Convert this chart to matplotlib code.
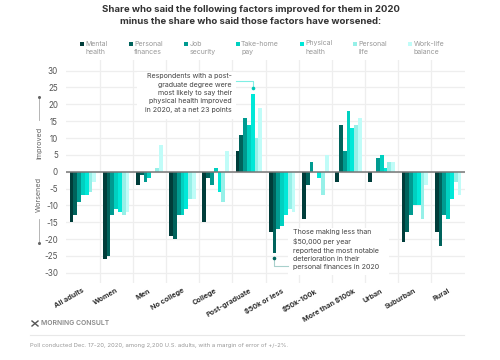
import numpy as np
import matplotlib
matplotlib.use('Agg')
import matplotlib.pyplot as plt
from matplotlib.lines import Line2D
from matplotlib.patches import Rectangle

plt.rcParams['font.family'] = ['Inter', 'DejaVu Sans']
plt.rcParams['axes.unicode_minus'] = False

groups = ['All adults', 'Women', 'Men', 'No college', 'College', 'Post-graduate',
          '$50k or less', '$50k-100k', 'More than $100k', 'Urban', 'Suburban', 'Rural']
mental = [-15, -26, -4, -19, -15, 6, -18, -14, -3, -3, -21, -18]
finances = [-13, -25, -1, -20, -2, 11, -24, -4, 14, 0, -18, -22]
job = [-9, -13, -3, -13, -4, 16, -17, 3, 6, 4, -13, -13]
pay = [-7, -11, -2, -13, 1, 14, -16, 0, 18, 5, -10, -14]
physical = [-7, -12, 0, -11, -6, 23, -13, -2, 13, 1, -10, -8]
personal = [-6, -13, 1, -8, -9, 10, -11, -7, 14, 3, -14, -3]
worklife = [-3, -12, 8, -8, 6, 19, -12, 5, 16, 3, -4, -7]

series = [mental, finances, job, pay, physical, personal, worklife]
labels = ['Mental\nhealth', 'Personal\nfinances', 'Job\nsecurity', 'Take-home\npay',
          'Physical\nhealth', 'Personal\nlife', 'Work-life\nbalance']
colors = ['#003d3a', '#00635c', '#009a90', '#00d0c0', '#00e8d8', '#96f0e8', '#c0fcf8']
yticks = np.arange(-30, 31, 5)

W, H = 500, 360


def fx(px):
    return px / W


def fy(py):
    return 1 - py / H


fig = plt.figure(figsize=(5, 3.6), dpi=100)
ax = fig.add_axes([fx(66.3), fy(283.2), (464.7 - 66.3) / W, (283.2 - 60.2) / H])

x = np.arange(len(groups))
bar_w = 0.8 / 7
for i, vals in enumerate(series):
    ax.bar(x + 0.5 + (i - 3) * bar_w, vals, bar_w, color=colors[i], zorder=3)

ax.set_xlim(0, 12)
ax.set_ylim(-33.1, 33.1)
ax.set_yticks(yticks)
ax.set_xticks(np.arange(1, 12))
ax.set_xticklabels([])
ax.tick_params(length=0, labelsize=5.8, labelcolor='#555555', pad=6)
ax.grid(color='#eeeeee', linewidth=0.9, zorder=0)
ax.set_axisbelow(True)
for s in ax.spines.values():
    s.set_visible(False)
ax.axhline(0, color='#777777', linewidth=1.1, zorder=4)

# white boxes behind the two notes
for bx, by, bw, bh in [(137, 72, 99, 47), (288, 228, 101, 47)]:
    ax.add_patch(Rectangle((fx(bx), fy(by + bh)), bw / W, bh / H, transform=fig.transFigure,
                           facecolor='white', edgecolor='none', zorder=2))

# category labels, longer ones sit a bit further right
for i, g in enumerate(groups):
    off = 16 + max(len(g) - 12, 0) * 1.5
    fig.text(fx(66.3 + 33.2 * i + off), fy(287.5), g, rotation=30, rotation_mode='anchor',
             ha='right', va='top', fontsize=5.2, fontweight='bold', color='#333333')

fig.text(fx(251), fy(9), 'Share who said the following factors improved for them in 2020',
         ha='center', va='center', fontsize=6.9, fontweight='bold', color='#333333')
fig.text(fx(251), fy(21.5), 'minus the share who said those factors have worsened:',
         ha='center', va='center', fontsize=6.9, fontweight='bold', color='#333333')

# legend
leg_x = [82, 130.7, 185.7, 237.7, 301.7, 355, 410]
for lx, lab, col in zip(leg_x, labels, colors):
    fig.patches.append(Rectangle((fx(lx - 2), fy(46)), 4 / W, 4 / H, transform=fig.transFigure,
                                 facecolor=col, edgecolor='none'))
    fig.text(fx(lx + 3.5), fy(40.5), lab, ha='left', va='top', fontsize=5,
             color='#999999', linespacing=1.45)


def line(xs, ys, col, lw=0.8):
    fig.add_artist(Line2D([fx(v) for v in xs], [fy(v) for v in ys], color=col, linewidth=lw))


# improved / worsened side labels
fig.text(fx(39), fy(143), 'Improved', rotation=90, ha='center', va='center', fontsize=5.2, color='#666666')
fig.text(fx(39), fy(195), 'Worsened', rotation=90, ha='center', va='center', fontsize=5.2, color='#666666')
line([38.5, 38.5], [97, 120], '#aaaaaa', 0.6)
line([38.5, 38.5], [219, 243], '#aaaaaa', 0.6)
fig.add_artist(Line2D([fx(38.5)], [fy(97)], marker='o', markersize=1.2, color='#666666'))
fig.add_artist(Line2D([fx(38.5)], [fy(243)], marker='o', markersize=1.2, color='#666666'))

# notes
fig.text(fx(232), fy(73), 'Respondents with a post-\ngraduate degree were\nmost likely to say their\n'
         'physical health improved\nin 2020, at a net 23 points',
         ha='right', va='top', fontsize=5.1, color='#444444', linespacing=1.5)
fig.text(fx(293), fy(229), 'Those making less than\n$50,000 per year\nreported the most notable\n'
         'deterioration in their\npersonal finances in 2020',
         ha='left', va='top', fontsize=5.1, color='#444444', linespacing=1.5)
line([236, 252.5, 252.5], [81, 81, 88], '#7feee4')
fig.add_artist(Line2D([fx(252.5)], [fy(88)], marker='o', markersize=1.6, color='#00c8b8'))
line([274, 274, 288], [258, 266, 266], '#a8d0cc')
fig.add_artist(Line2D([fx(274)], [fy(257.5)], marker='o', markersize=1.6, color='#00635c'))

# footer
fig.text(fx(41), fy(323), 'MORNING CONSULT', ha='left', va='center', fontsize=4.9,
         fontweight='semibold', color='#888888')
line([32, 38], [321, 326], '#555555', 1)
line([32, 38], [326, 321], '#555555', 1)
line([30, 464], [335, 335], '#e8e8e8')
fig.text(fx(30), fy(345.5), 'Poll conducted Dec. 17-20, 2020, among 2,200 U.S. adults, with a margin of error of +/-2%.',
         ha='left', va='center', fontsize=4.25, color='#999999')

fig.savefig('out.png', dpi=100)
